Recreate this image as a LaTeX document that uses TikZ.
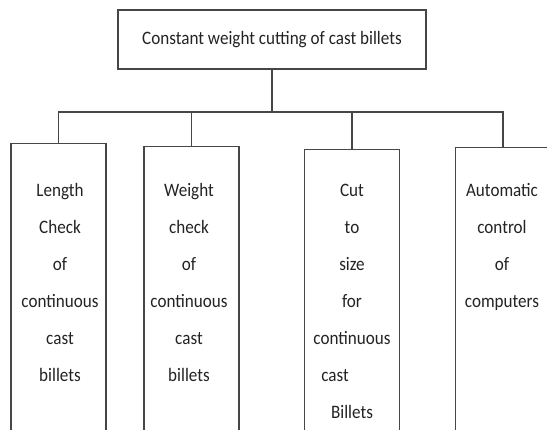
\documentclass[tikz,border=0pt]{standalone}
\usepackage{fontspec}
\setmainfont{Carlito}[FakeStretch=0.9]
\usetikzlibrary{positioning}
\definecolor{linegray}{RGB}{70,70,70}
\definecolor{textgray}{RGB}{35,35,35}

\begin{document}
\begin{tikzpicture}
[x=1pt, y=-1pt, line width=1.5pt, draw=linegray,
rootbox/.style={rectangle, draw=linegray, inner sep=0pt, minimum width=308pt, minimum height=59pt, text=textgray, font=\fontsize{19}{20}\selectfont},
branch/.style={rectangle, draw=linegray, inner sep=0pt, anchor=north, minimum width=95pt, minimum height=300pt},
boxtext/.style={anchor=north, inner sep=0pt, align=center, text=textgray, font=\fontsize{19}{37}\selectfont}]

\useasboundingbox (0,0) rectangle (547,430);
\clip (0,0) rectangle (547,430);

% top of the tree
\node[rootbox] (root) at (272,39.5) {Constant weight cutting of cast billets};
\coordinate (bus) at (0,112);

% the four branches
\node[branch] (length) at (58.5,143) {};
\node[branch] (weight) at (191.5,146) {};
\node[branch] (cut) at (352,149) {};
\node[branch] (auto) at (503,147) {};

\node[boxtext] (length text) at (60,183) {Length\\Check\\of\\continuous\\cast\\billets};
\node[boxtext] (weight text) at (189,183) {Weight\\check\\of\\continuous\\cast\\billets};
\node[boxtext] (cut text) at (352,183) {Cut\\to\\size\\for\\continuous\\\hspace*{-34pt}cast\\Billets};
\node[boxtext] (auto text) at (502,183) {Automatic\\control\\of\\computers};

% connectors
\draw (root) -- (root |- bus);
\draw (length) -- (length |- bus) -- (auto |- bus) -- (auto);
\foreach \n in {weight, cut}
	\draw (\n) -- (\n |- bus);
\end{tikzpicture}
\end{document}
